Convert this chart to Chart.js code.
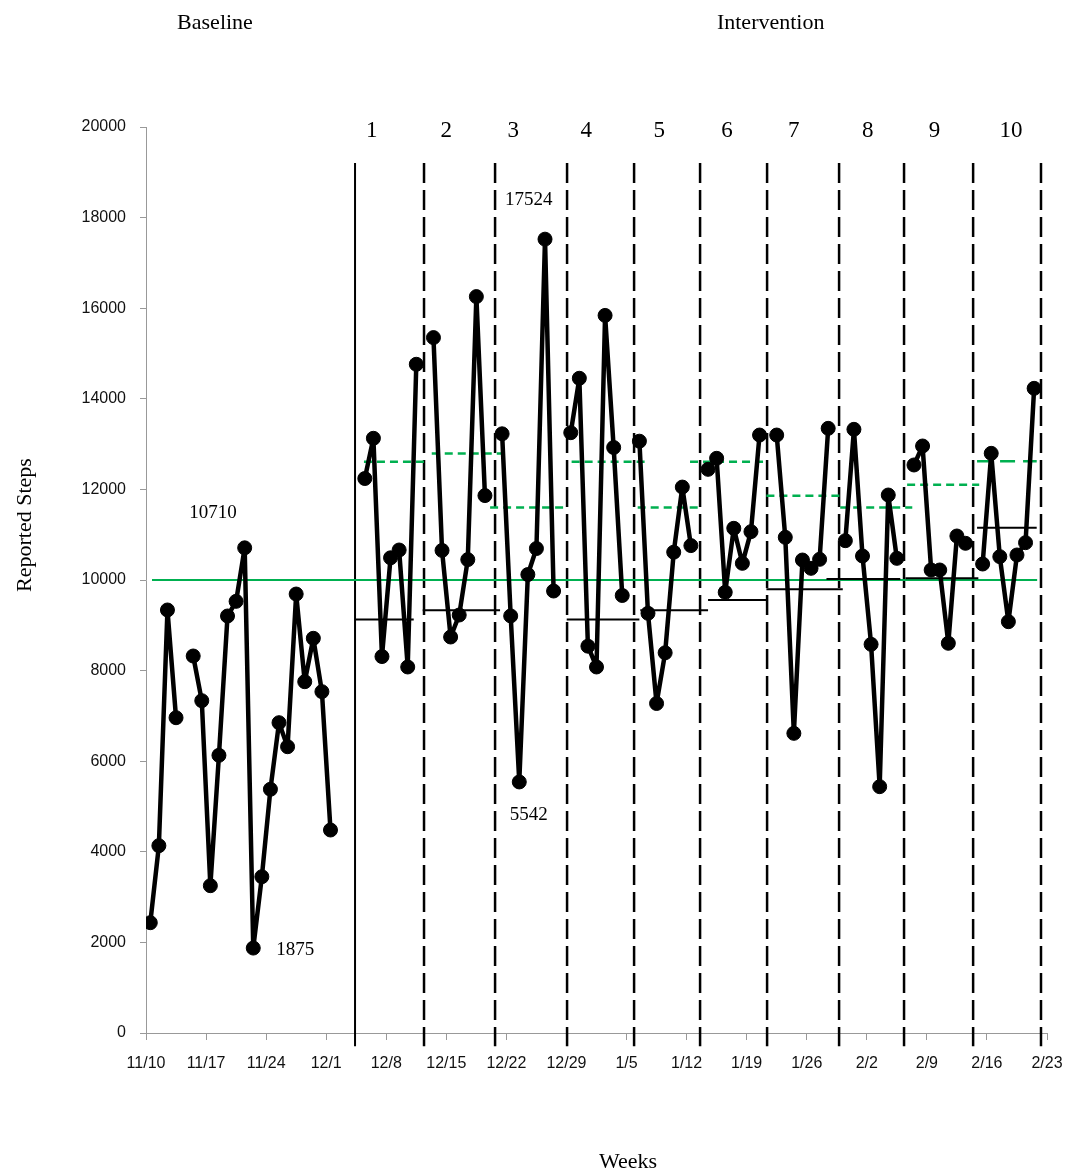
<!DOCTYPE html>
<html>
<head>
<meta charset="utf-8">
<title>Reported Steps</title>
<script src="https://cdn.jsdelivr.net/npm/chart.js@4.4.0/dist/chart.umd.min.js"></script>
<style>
  html, body { margin: 0; padding: 0; background: #fff; }
  #wrap { width: 1067px; height: 1176px; }
</style>
</head>
<body>
<div id="wrap"><canvas id="chart" width="1067" height="1176"></canvas></div>
<script>
// x axis: one label per week, day 0 = 11/10
const dateLabels = ['11/10', '11/17', '11/24', '12/1', '12/8', '12/15', '12/22', '12/29',
  '1/5', '1/12', '1/19', '1/26', '2/2', '2/9', '2/16', '2/23'];

// baseline, days 0..21 (day 4 not reported)
const baselineSteps = [2435, 4135, 9338, 6960, null, 8322, 7336, 3252, 6130, 9205, 9529,
  10710, 1875, 3450, 5380, 6850, 6320, 9690, 7755, 8713, 7535, 4481];

// intervention weeks 1-10, seven days each
const weekStartDay = [25, 33, 41, 49, 57, 65, 73, 81, 89, 97];
const weekSteps = [
  [12240, 13128, 8310, 10490, 10662, 8080, 14762],
  [15351, 10653, 8742, 9227, 10450, 16256, 11863],
  [13227, 9207, 5542, 10120, 10695, 17524, 9757],
  [13252, 14453, 8539, 8080, 15841, 12925, 9658],
  [13064, 9265, 7274, 8393, 10614, 12051, 10759],
  [12443, 12686, 9728, 11141, 10368, 11067, 13200],
  [13200, 10942, 6615, 10441, 10258, 10456, 13348],
  [10868, 13326, 10530, 8580, 5438, 11876, 10478],
  [12539, 12958, 10221, 10221, 8603, 10971, 10810],
  [10353, 12796, 10515, 9080, 10552, 10824, 14231]
];

// daily goal line
const goalSteps = 10000;
const goalFrom = 0.7, goalTo = 103.85;

// weekly lower line (black) and upper line (green dashed)
const weekLow = [9126, 9331, null, 9126, 9331, 9558, 9795, 10022, 10037, 11155];
const weekLowFrom = [24.36, 32.25, null, 49.03, 57.6, 65.5, 72.3, 79.3, 88.5, 96.85];
const weekLowTo = [31.2, 41.26, null, 57.5, 65.5, 72.3, 81.2, 87.9, 97.0, 103.8];
const weekHigh = [12610, 12790, 11600, 12610, 11600, 12610, 11860, 11600, 12100, 12620];
const weekHighFrom = [25.4, 33.3, 40.1, 49.6, 57.3, 63.4, 72.3, 80.9, 88.7, 96.85];
const weekHighTo = [32.75, 41.7, 48.95, 58.16, 64.6, 72.4, 81.1, 89.3, 97.1, 103.8];

// phase change lines (first one solid)
const phaseLines = [24.36, 32.4, 40.68, 49.07, 56.88, 64.57, 72.38, 80.77, 88.34, 96.39, 104.3];
const phaseTop = 19205, phaseBottom = -290;

// text placed on the plot
const weekNames = ['1', '2', '3', '4', '5', '6', '7', '8', '9', '10'];
const weekNameDay = [26.3, 35.0, 42.8, 51.3, 59.8, 67.7, 75.5, 84.1, 91.9, 100.8];
const noteText = ['10710', '1875', '17524', '5542'];
const noteDay = [7.8, 17.4, 44.6, 44.6];
const noteSteps = [11479, 1832, 18389, 4812];

const GREEN = '#00b050';
const SERIF = '"Liberation Serif", "Times New Roman", serif';
const SANS = '"Liberation Sans", Arial, sans-serif';

// build the step series, nulls break the line between weeks
function buildSteps() {
  const pts = [];
  baselineSteps.forEach((v, i) => pts.push({ x: i + 0.5, y: v }));
  weekSteps.forEach((week, w) => {
    pts.push({ x: weekStartDay[w] - 0.5, y: null });
    week.forEach((v, i) => pts.push({ x: weekStartDay[w] + i + 0.5, y: v }));
  });
  return pts;
}

function segment(x1, x2, y, color, width, dash, order) {
  return {
    data: [{ x: x1, y: y }, { x: x2, y: y }],
    borderColor: color,
    borderWidth: width,
    borderDash: dash,
    pointRadius: 0,
    fill: false,
    order: order
  };
}

const datasets = [{
  data: buildSteps(),
  borderColor: '#000',
  backgroundColor: '#000',
  borderWidth: 4.5,
  borderJoinStyle: 'round',
  borderCapStyle: 'round',
  pointRadius: 7,
  pointBackgroundColor: '#000',
  pointBorderColor: '#000',
  pointBorderWidth: 1,
  spanGaps: false,
  tension: 0,
  order: 0
}];

weekLow.forEach((v, i) => {
  if (v === null) return;
  datasets.push(segment(weekLowFrom[i], weekLowTo[i], v, '#000', 2, [], 1));
});
datasets.push(segment(goalFrom, goalTo, goalSteps, GREEN, 2.2, [], 2));
weekHigh.forEach((v, i) => {
  const dash = i === 9 ? [15, 8] : [8, 5];
  datasets.push(segment(weekHighFrom[i], weekHighTo[i], v, GREEN, 2.5, dash, 3));
});
phaseLines.forEach((x, i) => {
  datasets.push({
    data: [{ x: x, y: phaseTop }, { x: x, y: phaseBottom }],
    borderColor: '#000',
    borderWidth: i === 0 ? 2 : 2.5,
    borderDash: i === 0 ? [] : [20, 7],
    pointRadius: 0,
    clip: false,
    order: 4
  });
});

// captions and annotations
const textPlugin = {
  id: 'texts',
  afterDatasetsDraw(chart) {
    const ctx = chart.ctx;
    const xs = chart.scales.x, ys = chart.scales.y;
    ctx.save();
    ctx.fillStyle = '#000';
    ctx.textAlign = 'center';
    ctx.textBaseline = 'middle';

    ctx.font = '23px ' + SERIF;
    weekNames.forEach((t, i) => {
      ctx.fillText(t, xs.getPixelForValue(weekNameDay[i]), ys.getPixelForValue(20000) + 4);
    });

    ctx.font = '19px ' + SERIF;
    noteText.forEach((t, i) => {
      ctx.fillText(t, xs.getPixelForValue(noteDay[i]), ys.getPixelForValue(noteSteps[i]));
    });

    ctx.font = '22px ' + SERIF;
    ctx.fillText('Baseline', xs.getPixelForValue(8.04), 23);
    ctx.fillText('Intervention', xs.getPixelForValue(72.8), 23);
    ctx.fillText('Weeks', 628, 1162);

    ctx.translate(25, 525);
    ctx.rotate(-Math.PI / 2);
    ctx.fillText('Reported Steps', 0, 0);
    ctx.restore();
  }
};

new Chart(document.getElementById('chart'), {
  type: 'line',
  data: { datasets: datasets },
  plugins: [textPlugin],
  options: {
    responsive: false,
    animation: false,
    events: [],
    layout: { padding: { top: 127, right: 20, bottom: 0, left: 0 } },
    plugins: {
      legend: { display: false },
      tooltip: { enabled: false }
    },
    scales: {
      x: {
        type: 'linear',
        min: 0,
        max: 105,
        afterFit: (s) => { s.height = 143; s.paddingLeft = 0; s.paddingRight = 0; },
        afterBuildTicks: (s) => { s.ticks = dateLabels.map((_, i) => ({ value: i * 7 })); },
        ticks: {
          autoSkip: false,
          maxRotation: 0,
          padding: 14,
          color: '#111',
          font: { family: SANS, size: 16 },
          callback: (v) => dateLabels[Math.round(v / 7)]
        },
        grid: { drawOnChartArea: false, color: '#999', tickLength: 7 },
        border: { color: '#999', width: 1 }
      },
      y: {
        min: 0,
        max: 20000,
        afterFit: (s) => { s.width = 146; },
        ticks: {
          stepSize: 2000,
          padding: 14,
          color: '#111',
          font: { family: SANS, size: 16 },
          callback: (v) => String(v)
        },
        grid: { drawOnChartArea: false, color: '#999', tickLength: 6 },
        border: { color: '#999', width: 1 }
      }
    }
  }
});
</script>
</body>
</html>
